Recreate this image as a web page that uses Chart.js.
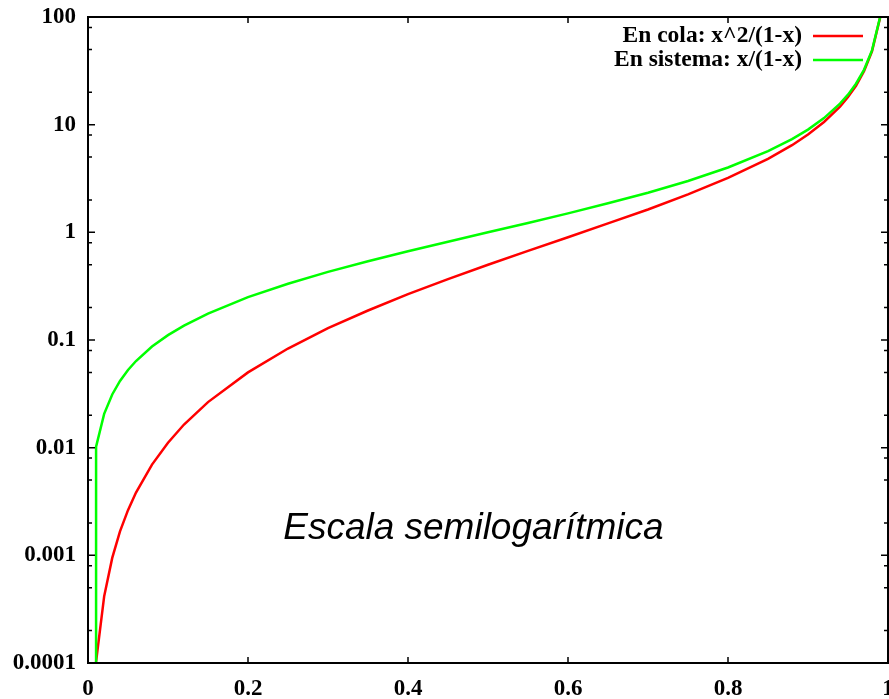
<!DOCTYPE html>
<html>
<head>
<meta charset="utf-8">
<script src="https://cdn.jsdelivr.net/npm/chart.js@4"></script>
<style>
html,body{margin:0;padding:0;background:#fff;overflow:hidden}
canvas{display:block}
</style>
</head>
<body>
<canvas id="myChart" width="900" height="699"></canvas>
<script>
// values
let xValues = [0.0101,0.0202,0.0303,0.04,0.05,0.06,0.08,0.1,0.12,0.15,0.2,0.25,0.3,0.35,0.4,0.45,0.5,0.55,0.6,0.65,0.7,0.75,0.8,0.85,0.88,0.9,0.92,0.94,0.95,0.96,0.97,0.98,0.99,0.995]
let colaValues = [0.000103,0.000416,0.000947,0.00167,0.00263,0.00383,0.00696,0.0111,0.0164,0.0265,0.05,0.0833,0.129,0.188,0.267,0.368,0.5,0.672,0.9,1.21,1.63,2.25,3.2,4.82,6.45,8.1,10.6,14.7,18.05,23.0,31.4,48.0,98,198]
let sistemaValues = [0.0102,0.0206,0.0312,0.0417,0.0526,0.0638,0.087,0.111,0.136,0.176,0.25,0.333,0.429,0.538,0.667,0.818,1,1.22,1.5,1.86,2.33,3,4,5.67,7.33,9,11.5,15.7,19,24,32.3,49,99,199]
// green curve drops straight down to the axis at its first sample
let sistemaStart = [0.0101, 0.0001]

const xTicks = [0,0.2,0.4,0.6,0.8,1]
const yTicks = [0.0001,0.001,0.01,0.1,1,10,100]
const yMinor = [2,5,8]
const seriesNames = ["En cola: x^2/(1-x)","En sistema: x/(1-x)"]
const colors = ["#ff0000","#00ff00"]
const noteText = "Escala semilogarítmica"
const notePos = [0.244, 0.00142]

let colaData = []
let sistemaData = [{x: sistemaStart[0], y: sistemaStart[1]}]
for (let i = 0; i < xValues.length; i++){
    colaData.push({x: xValues[i], y: colaValues[i]})
    sistemaData.push({x: xValues[i], y: sistemaValues[i]})
}

const tickFont = {family: "Liberation Serif", size: 23, weight: "bold"}

const framePlugin = {
    id: "frame",
    afterDatasetsDraw(chart){
        const ctx = chart.ctx
        const {left, right, top, bottom} = chart.chartArea
        const x = chart.scales.x
        const y = chart.scales.y
        ctx.save()
        ctx.strokeStyle = "#000"
        ctx.lineWidth = 2
        ctx.strokeRect(left, top, right - left, bottom - top)

        ctx.lineWidth = 1.5
        ctx.beginPath()
        xTicks.forEach(v => {
            let px = x.getPixelForValue(v)
            ctx.moveTo(px, bottom); ctx.lineTo(px, bottom - 6)
            ctx.moveTo(px, top); ctx.lineTo(px, top + 6)
        })
        yTicks.forEach((v, i) => {
            let py = y.getPixelForValue(v)
            ctx.moveTo(left, py); ctx.lineTo(left + 7, py)
            ctx.moveTo(right, py); ctx.lineTo(right - 7, py)
            if (i < yTicks.length - 1){
                yMinor.forEach(m => {
                    let pm = y.getPixelForValue(v * m)
                    ctx.moveTo(left, pm); ctx.lineTo(left + 4, pm)
                    ctx.moveTo(right, pm); ctx.lineTo(right - 4, pm)
                })
            }
        })
        ctx.stroke()

        // legend, top right inside the frame
        ctx.font = "bold 23.5px 'Liberation Serif'"
        ctx.fillStyle = "#000"
        ctx.textAlign = "right"
        ctx.textBaseline = "middle"
        for (let i = 0; i < seriesNames.length; i++){
            let ly = top + 19 + i * 24
            ctx.fillText(seriesNames[i], right - 86, ly)
            ctx.strokeStyle = colors[i]
            ctx.lineWidth = 2.5
            ctx.beginPath()
            ctx.moveTo(right - 75, ly); ctx.lineTo(right - 25, ly)
            ctx.stroke()
        }

        ctx.font = "italic 37px 'Liberation Sans'"
        ctx.textAlign = "left"
        ctx.textBaseline = "alphabetic"
        ctx.fillText(noteText, x.getPixelForValue(notePos[0]), y.getPixelForValue(notePos[1]))
        ctx.restore()
    }
}

new Chart("myChart", {
    type: "line",
    data: {
        datasets: [{
            label: seriesNames[0],
            data: colaData,
            borderColor: colors[0],
            borderWidth: 2.5,
            pointRadius: 0,
            fill: false,
            order: 1
        }, {
            label: seriesNames[1],
            data: sistemaData,
            borderColor: colors[1],
            borderWidth: 2.5,
            pointRadius: 0,
            fill: false,
            order: 0
        }]
    },
    options: {
        responsive: false,
        animation: false,
        layout: {padding: {top: 17, right: 12, left: 0, bottom: 0}},
        plugins: {legend: {display: false}, tooltip: {enabled: false}},
        scales: {
            x: {
                type: "linear", min: 0, max: 1,
                afterBuildTicks: s => { s.ticks = xTicks.map(v => ({value: v})) },
                afterFit: s => { s.height = 36; s.paddingLeft = 0; s.paddingRight = 0 },
                grid: {display: false, drawTicks: false},
                border: {display: false},
                ticks: {padding: 12, color: "#000", font: tickFont, maxRotation: 0, autoSkip: false, callback: v => String(v)}
            },
            y: {
                type: "logarithmic", min: 0.0001, max: 100,
                afterBuildTicks: s => { s.ticks = yTicks.map(v => ({value: v})) },
                afterFit: s => { s.width = 88; s.paddingTop = 0; s.paddingBottom = 0 },
                grid: {display: false, drawTicks: false},
                border: {display: false},
                ticks: {padding: 12, color: "#000", font: tickFont, autoSkip: false, callback: v => String(v)}
            }
        }
    },
    plugins: [framePlugin]
})
</script>
</body>
</html>
